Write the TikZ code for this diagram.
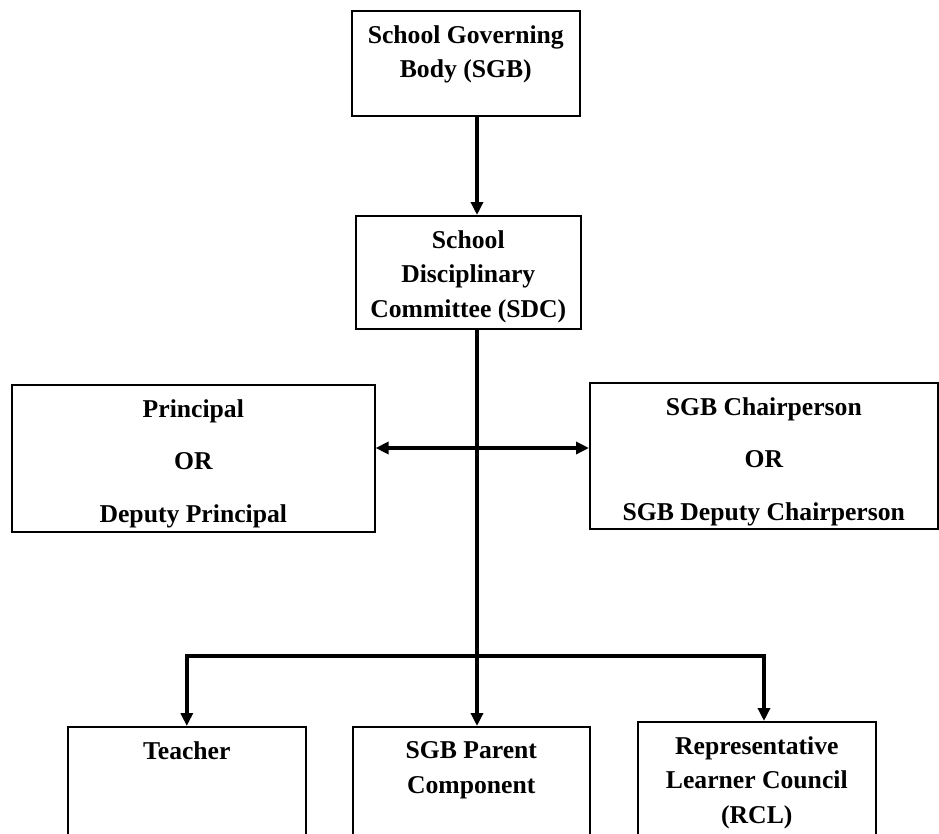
\documentclass[tikz,border=0pt]{standalone}
\usepackage{fontspec}
\setmainfont{Liberation Serif}
\usetikzlibrary{arrows.meta, positioning}

\begin{document}
\begin{tikzpicture}[>={Triangle[length=0.26cm, width=0.24cm]}, line width=2pt]
    % Define block styles
    \tikzstyle{block} = [rectangle, draw, line width=0.9pt, anchor=north west,
        inner xsep=0pt, inner ysep=0.3cm, font=\fontsize{14.6}{19.5}\selectfont\bfseries]
    \tikzstyle{line} = [draw, ->]

    \useasboundingbox (0,0) rectangle (18.78,-16.68);
    \clip (0,0) rectangle (18.78,-16.68);

    % Define nodes
    \node [block] (sgb) at (7.02,-0.2) {\parbox[t][1.5cm][t]{4.56cm}{\centering School Governing\\Body (SGB)}};
    \node [block] (sdc) at (7.1,-4.3) {\parbox[t][1.66cm][t]{4.5cm}{\centering School\\Disciplinary\\Committee (SDC)}};
    \node [block] (principal) at (0.22,-7.68) {\parbox[t][2.34cm][t]{7.26cm}{\centering Principal\\[0.36cm]OR\\[0.36cm]Deputy Principal}};
    \node [block] (chair) at (11.78,-7.64) {\parbox[t][2.32cm][t]{6.96cm}{\centering SGB Chairperson\\[0.36cm]OR\\[0.36cm]SGB Deputy Chairperson}};
    \node [block] (teacher) at (1.34,-14.52) {\parbox[t][2.5cm][t]{4.76cm}{\centering Teacher}};
    \node [block] (parent) at (7.04,-14.52) {\parbox[t][2.5cm][t]{4.74cm}{\centering SGB Parent\\Component}};
    \node [block] (rcl) at (12.74,-14.42) {\parbox[t][2.6cm][t]{4.76cm}{\centering Representative\\Learner Council\\(RCL)}};

    % Branch points
    \coordinate (spine) at (9.54,-8.96);
    \coordinate (bar) at (9.54,-13.12);
    \coordinate (barR) at (15.28,-13.12);

    % Draw edges
    \path [line] (sgb.south -| spine) -- (sdc.north -| spine);
    \path [line] (sdc.south -| spine) -- (parent.north -| spine);
    \draw [<->] (principal.east |- spine) -- (chair.west |- spine);
    \draw [<->] (teacher.north) -- (teacher.north |- bar) -- (barR) -- (rcl.north -| barR);

\end{tikzpicture}
\end{document}
